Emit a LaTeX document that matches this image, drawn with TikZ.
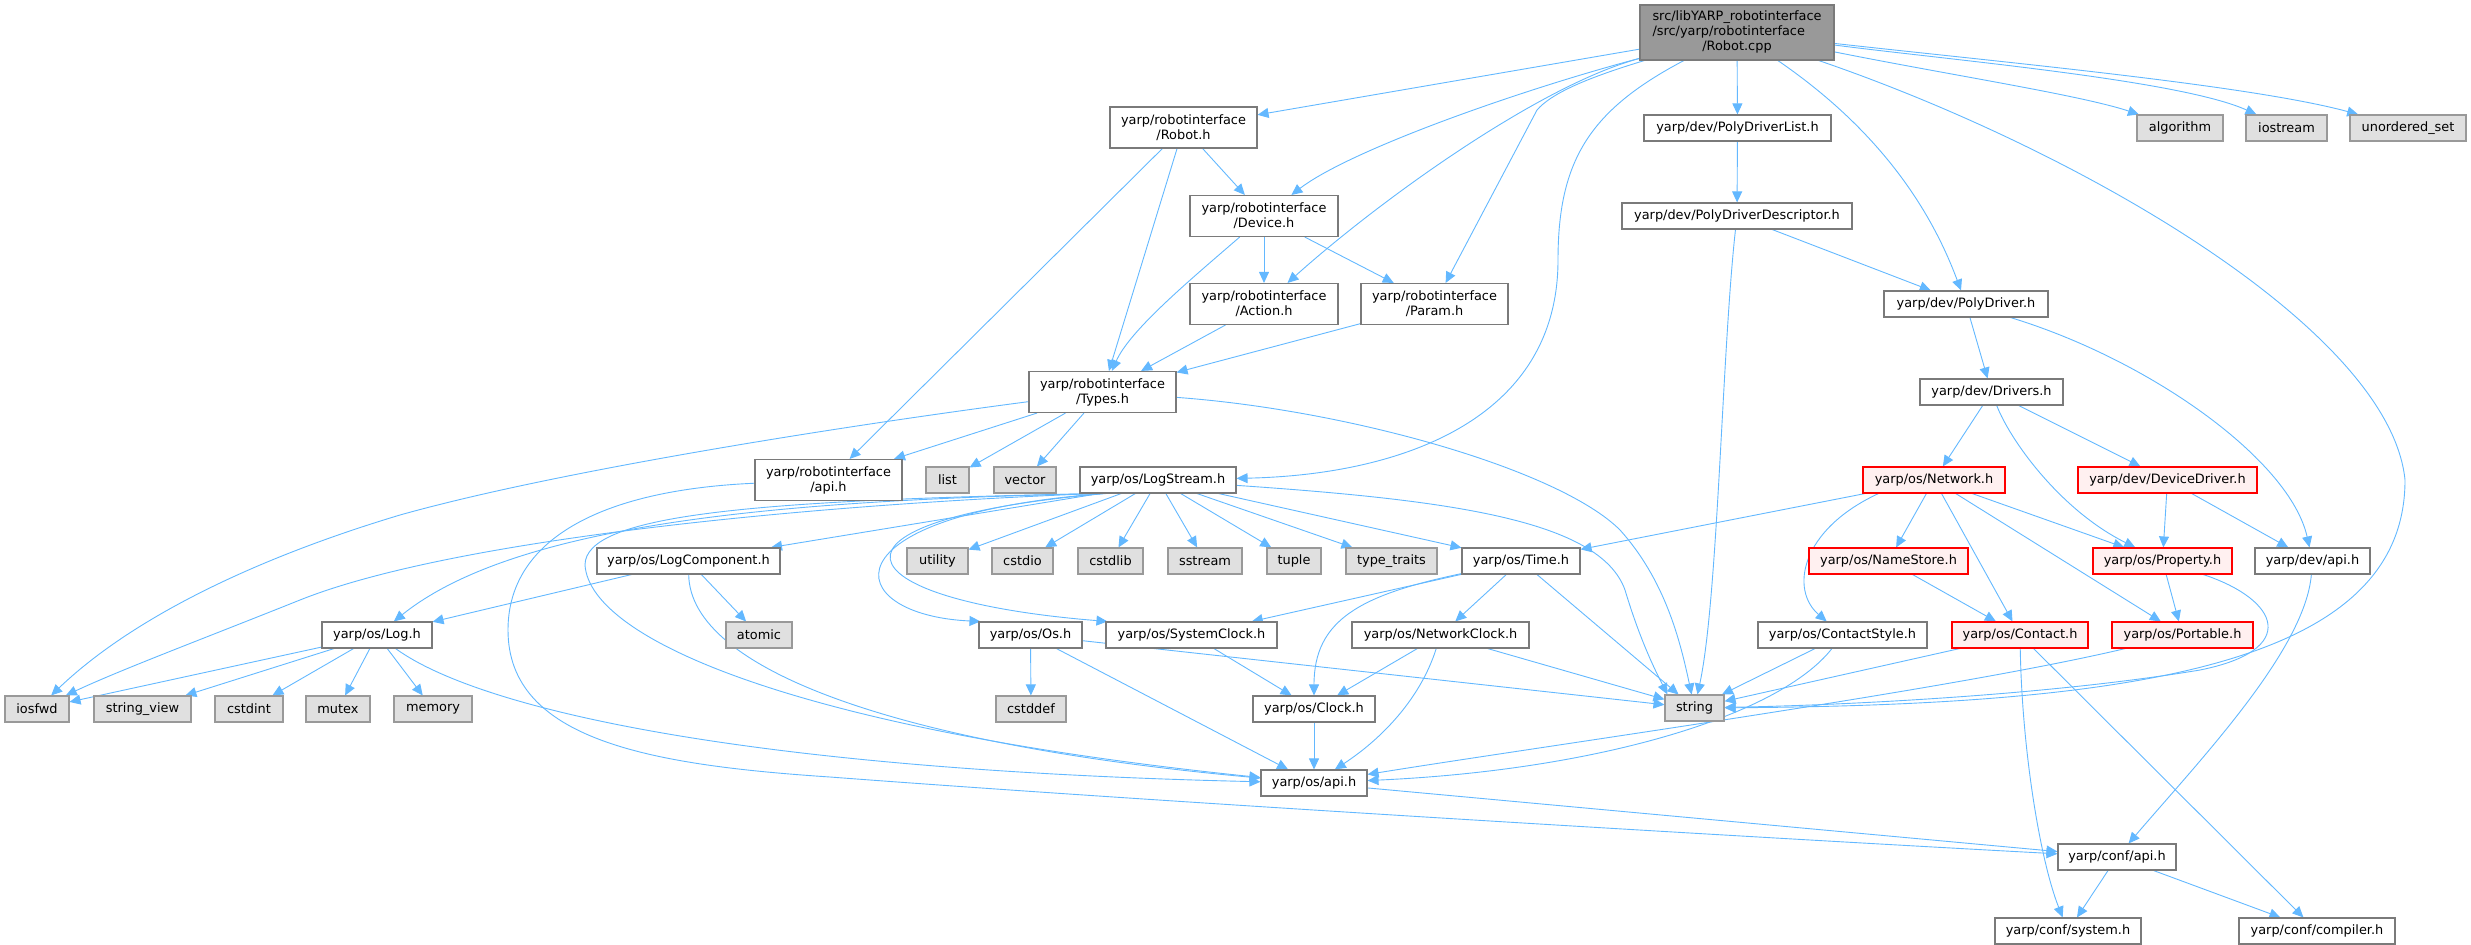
\documentclass[tikz,border=0pt]{standalone}
\usepackage{fontspec}
\setmainfont{DejaVu Sans}
\usetikzlibrary{arrows.meta}
\definecolor{edgeblue}{HTML}{63B8FF}
\definecolor{nodegray}{HTML}{7A7A7A}
\definecolor{extfill}{HTML}{E0E0E0}
\definecolor{extgray}{HTML}{999999}
\definecolor{redfill}{HTML}{FFF0F0}
\definecolor{rootfill}{HTML}{999999}
\pgfdeclarelayer{bg}
\pgfsetlayers{bg,main}
\begin{document}
\begin{tikzpicture}[x=1pt,y=-1pt,
  nbox/.style={draw=nodegray, fill=white, line width=1.1pt, inner sep=0pt, align=center,
    font=\fontsize{12.9}{15}\selectfont, minimum height=26pt},
  nbox2/.style={nbox, minimum height=41pt},
  ext/.style={nbox, fill=extfill, draw=extgray},
  redbox/.style={nbox, fill=redfill, draw=red},
  root/.style={nbox, fill=rootfill, minimum height=55pt},
  dep/.style={draw=edgeblue, line width=0.9pt, -{Triangle[length=11pt,width=10pt]}}
]
\useasboundingbox (0,0) rectangle (2471,945);
% rank 0
\node[root, minimum width=194pt] (cpp) at (1737,32.5) {\begin{tabular}{@{}l@{}}src/libYARP\_robotinterface\\/src/yarp/robotinterface\\\multicolumn{1}{@{}c@{}}{/Robot.cpp}\end{tabular}};
% rank 1
\node[nbox2, minimum width=147pt] (robot_h) at (1183.5,127.5) {yarp/robotinterface\\/Robot.h};
\node[nbox, minimum width=187pt] (pdl) at (1737.5,128) {yarp/dev/PolyDriverList.h};
\node[ext, minimum width=86pt] (algorithm) at (2180,128) {algorithm};
\node[ext, minimum width=81pt] (iostream) at (2286.5,128) {iostream};
\node[ext, minimum width=116pt] (unordered) at (2408,128) {unordered\_set};
% rank 2
\node[nbox2, minimum width=148pt] (device) at (1264,216) {yarp/robotinterface\\/Device.h};
\node[nbox, minimum width=230pt] (pdd) at (1737,216) {yarp/dev/PolyDriverDescriptor.h};
% rank 3
\node[nbox2, minimum width=148pt] (action) at (1264,304) {yarp/robotinterface\\/Action.h};
\node[nbox2, minimum width=147pt] (param) at (1434.5,304) {yarp/robotinterface\\/Param.h};
\node[nbox, minimum width=164pt] (polydriver) at (1966,304) {yarp/dev/PolyDriver.h};
% rank 4
\node[nbox2, minimum width=147pt] (types) at (1102.5,392) {yarp/robotinterface\\/Types.h};
\node[nbox, minimum width=143pt] (drivers) at (1991.5,392) {yarp/dev/Drivers.h};
% rank 5
\node[nbox2, minimum width=147pt] (riapi) at (828.5,480) {yarp/robotinterface\\/api.h};
\node[ext, minimum width=43pt] (list) at (947.5,480) {list};
\node[ext, minimum width=62pt] (vector) at (1025,480) {vector};
\node[nbox, minimum width=156pt] (logstream) at (1158,480) {yarp/os/LogStream.h};
\node[redbox, minimum width=142pt] (network) at (1934,480) {yarp/os/Network.h};
\node[redbox, minimum width=179pt] (devicedriver) at (2167.5,480) {yarp/dev/DeviceDriver.h};
% rank 6
\node[nbox, minimum width=183pt] (logcomponent) at (688.5,561) {yarp/os/LogComponent.h};
\node[ext, minimum width=61pt] (utility) at (937.5,561) {utility};
\node[ext, minimum width=61pt] (cstdio) at (1022.5,561) {cstdio};
\node[ext, minimum width=65pt] (cstdlib) at (1110.5,561) {cstdlib};
\node[ext, minimum width=74pt] (sstream) at (1205,561) {sstream};
\node[ext, minimum width=54pt] (tuple) at (1294,561) {tuple};
\node[ext, minimum width=91pt] (typetraits) at (1391.5,561) {type\_traits};
\node[nbox, minimum width=118pt] (time) at (1521,561) {yarp/os/Time.h};
\node[redbox, minimum width=159pt] (namestore) at (1888.5,561) {yarp/os/NameStore.h};
\node[redbox, minimum width=139pt] (property) at (2162.5,561) {yarp/os/Property.h};
\node[nbox, minimum width=115pt] (devapi) at (2312.5,561) {yarp/dev/api.h};
% rank 7
\node[nbox, minimum width=110pt] (log) at (377,635) {yarp/os/Log.h};
\node[ext, minimum width=66pt] (atomic) at (759,635) {atomic};
\node[nbox, minimum width=103pt] (os) at (1030.5,635) {yarp/os/Os.h};
\node[nbox, minimum width=171pt] (systemclock) at (1191.5,635) {yarp/os/SystemClock.h};
\node[nbox, minimum width=177pt] (networkclock) at (1440.5,635) {yarp/os/NetworkClock.h};
\node[nbox, minimum width=169pt] (contactstyle) at (1842.5,635) {yarp/os/ContactStyle.h};
\node[redbox, minimum width=136pt] (contact) at (2020,635) {yarp/os/Contact.h};
\node[redbox, minimum width=141pt] (portable) at (2182.5,635) {yarp/os/Portable.h};
% rank 8
\node[ext, minimum width=64pt] (iosfwd) at (37,709) {iosfwd};
\node[ext, minimum width=97pt] (stringview) at (142.5,709) {string\_view};
\node[ext, minimum width=68pt] (cstdint) at (249,709) {cstdint};
\node[ext, minimum width=64pt] (mutex) at (338,709) {mutex};
\node[ext, minimum width=78pt] (memory) at (433,709) {memory};
\node[ext, minimum width=70pt] (cstddef) at (1031,709) {cstddef};
\node[nbox, minimum width=122pt] (clock) at (1314,709) {yarp/os/Clock.h};
\node[ext, minimum width=59pt] (string) at (1694.5,708) {string};
% rank 9-11
\node[nbox, minimum width=106pt] (osapi) at (1314,783) {yarp/os/api.h};
\node[nbox, minimum width=118pt] (confapi) at (2117,857) {yarp/conf/api.h};
\node[nbox, minimum width=146pt] (system) at (2068,931) {yarp/conf/system.h};
\node[nbox, minimum width=156pt] (compiler) at (2317,931) {yarp/conf/compiler.h};

\begin{pgfonlayer}{bg}
% Robot.cpp
\draw[dep] (cpp) -- (robot_h);
\draw[dep] (cpp) .. controls (1520,90) and (1350,150) .. (device);
\draw[dep] (cpp) .. controls (1540,85) and (1380,200) .. (action);
\draw[dep] (cpp) .. controls (1580,80) and (1550,95) .. (1537,110) -- (param);
\draw[dep] (cpp) .. controls (1590,110) and (1558,160) .. (1558,260) .. controls (1558,420) and (1400,475) .. (logstream);
\draw[dep] (cpp) -- (pdl);
\draw[dep] (cpp) .. controls (1850,110) and (1920,180) .. (polydriver);
\draw[dep] (cpp) .. controls (1950,75) and (2080,95) .. (algorithm);
\draw[dep] (cpp) .. controls (1950,60) and (2180,80) .. (iostream);
\draw[dep] (cpp) .. controls (2000,62) and (2250,85) .. (unordered);
\draw[dep] (cpp) .. controls (2080,150) and (2390,330) .. (2405,480) .. controls (2405,660) and (2150,705) .. (string);
% Robot.h
\draw[dep] (robot_h) -- (device);
\draw[dep] (robot_h) -- (types);
\draw[dep] (robot_h) -- (riapi);
% Device.h, Action.h, Param.h
\draw[dep] (device) -- (action);
\draw[dep] (device) -- (param);
\draw[dep] (device) .. controls (1190,280) and (1130,330) .. (types);
\draw[dep] (action) -- (types);
\draw[dep] (param) -- (types);
% Types.h
\draw[dep] (types) .. controls (850,425) and (560,470) .. (400,515) .. controls (250,560) and (130,620) .. (iosfwd);
\draw[dep] (types) -- (riapi);
\draw[dep] (types) -- (list);
\draw[dep] (types) -- (vector);
\draw[dep] (types) .. controls (1350,410) and (1560,470) .. (1620,530) .. controls (1665,580) and (1680,640) .. (string);
% robotinterface/api.h
\draw[dep] (riapi) .. controls (600,490) and (508,540) .. (508,630) .. controls (508,740) and (650,765) .. (830,777) .. controls (1200,805) and (1800,840) .. (confapi);
% LogStream.h
\draw[dep] (logstream) -- (utility);
\draw[dep] (logstream) -- (cstdio);
\draw[dep] (logstream) -- (cstdlib);
\draw[dep] (logstream) -- (sstream);
\draw[dep] (logstream) -- (tuple);
\draw[dep] (logstream) -- (typetraits);
\draw[dep] (logstream) -- (time);
\draw[dep] (logstream) .. controls (1450,500) and (1600,520) .. (1625,590) .. controls (1640,640) and (1655,670) .. ([xshift=3pt]string.north west);
\draw[dep] ([xshift=20pt]logstream.south west) -- (logcomponent);
\draw[dep] ([xshift=18pt]logstream.south west) .. controls (800,500) and (520,520) .. (log);
\draw[dep] ([xshift=16pt]logstream.south west) .. controls (800,505) and (450,540) .. (300,600) .. controls (200,640) and (120,670) .. (iosfwd);
\draw[dep] ([xshift=22pt]logstream.south west) .. controls (750,500) and (585,515) .. (585,565) .. controls (590,640) and (800,730) .. (osapi);
\draw[dep] ([xshift=24pt]logstream.south west) .. controls (820,515) and (840,615) .. ([xshift=2pt]os.north west);
\draw[dep] ([xshift=26pt]logstream.south west) .. controls (800,520) and (840,600) .. ([xshift=2pt]systemclock.north west);
% Log.h
\draw[dep] (log) -- (iosfwd);
\draw[dep] (log) -- (stringview);
\draw[dep] (log) -- (cstdint);
\draw[dep] (log) -- (mutex);
\draw[dep] (log) -- (memory);
\draw[dep] (log) .. controls (480,710) and (750,770) .. (osapi);
% LogComponent.h
\draw[dep] (logcomponent) -- (log);
\draw[dep] (logcomponent) -- (atomic);
\draw[dep] (logcomponent) .. controls (690,670) and (900,745) .. (osapi);
% Os.h
\draw[dep] (os) -- (cstddef);
\draw[dep] (os) -- (osapi);
\draw[dep] (os) -- (string);
% Time.h
\draw[dep] (time) -- (systemclock);
\draw[dep] (time) .. controls (1360,595) and (1314,620) .. (clock);
\draw[dep] (time) -- (networkclock);
\draw[dep] (time) -- (string);
% NetworkClock.h, SystemClock.h, Clock.h, os/api.h
\draw[dep] (networkclock) -- (clock);
\draw[dep] (networkclock) .. controls (1420,700) and (1380,740) .. (osapi);
\draw[dep] (networkclock) -- (string);
\draw[dep] (systemclock) -- (clock);
\draw[dep] (clock) -- (osapi);
\draw[dep] (osapi) -- (confapi);
% Network.h
\draw[dep] (network) -- (time);
\draw[dep] ([xshift=16pt]network.south west) .. controls (1800,530) and (1790,590) .. (contactstyle);
\draw[dep] (network) -- (namestore);
\draw[dep] (network) -- (contact);
\draw[dep] (network) -- (portable);
\draw[dep] (network) -- (property);
% DeviceDriver.h
\draw[dep] (devicedriver) -- (property);
\draw[dep] (devicedriver) -- (devapi);
% Drivers.h
\draw[dep] (drivers) -- (network);
\draw[dep] (drivers) -- (devicedriver);
\draw[dep] (drivers) .. controls (2010,440) and (2060,510) .. (property);
% PolyDriver
\draw[dep] (polydriver) -- (drivers);
\draw[dep] (polydriver) .. controls (2150,360) and (2290,460) .. (devapi);
\draw[dep] (pdl) -- (pdd);
\draw[dep] (pdd) -- (polydriver);
\draw[dep] (pdd) .. controls (1722,350) and (1718,600) .. (string);
% Property.h, NameStore.h
\draw[dep] (property) -- (portable);
\draw[dep] (property) .. controls (2280,600) and (2300,650) .. (2200,670) .. controls (2050,695) and (1850,705) .. (string);
\draw[dep] (namestore) -- (contact);
% ContactStyle.h, Contact.h, Portable.h
\draw[dep] (contactstyle) -- (string);
\draw[dep] (contactstyle) .. controls (1780,715) and (1600,770) .. (osapi);
\draw[dep] (contact) -- (string);
\draw[dep] (contact) .. controls (2022,750) and (2040,860) .. (system);
\draw[dep] (contact) -- (compiler);
\draw[dep] (portable) .. controls (1950,690) and (1550,745) .. (osapi);
% dev/api.h, conf/api.h
\draw[dep] (devapi) .. controls (2305,650) and (2200,760) .. (confapi);
\draw[dep] (confapi) -- (system);
\draw[dep] (confapi) -- (compiler);
\end{pgfonlayer}
\end{tikzpicture}
\end{document}
